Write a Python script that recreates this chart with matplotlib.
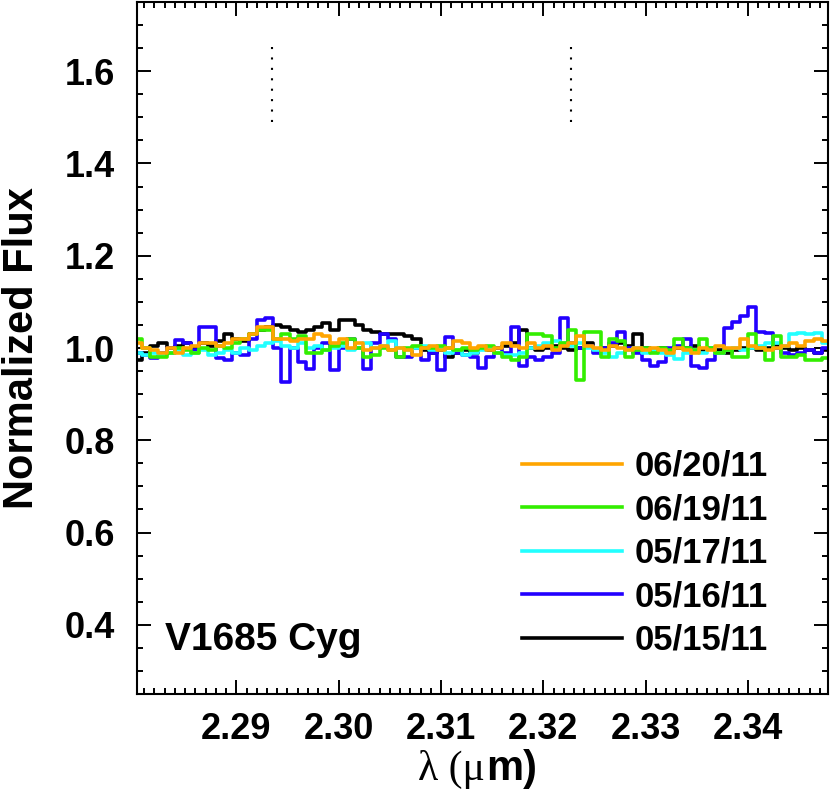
import numpy as np
import matplotlib
matplotlib.use("Agg")
import matplotlib.pyplot as plt
from matplotlib.ticker import MultipleLocator

plt.rcParams['font.family'] = ['Liberation Sans', 'DejaVu Sans']
plt.rcParams['font.weight'] = 'bold'

# wavelength grid (micron) and spectra
wave = 2.2804 + 0.0008 * np.arange(85)

flux_0515 = [0.975, 0.99, 1.005, 1.01, 1.0, 1.005, 1.01, 1.0, 1.01, 1.005,
             1.015, 1.03, 1.02, 1.015, 1.03, 1.04, 1.045, 1.05, 1.045, 1.04,
             1.035, 1.04, 1.045, 1.054, 1.04, 1.06, 1.06, 1.05, 1.04, 1.035,
             1.03, 1.03, 1.03, 1.025, 1.02, 0.995, 0.99, 0.995, 0.98, 0.99,
             0.995, 0.99, 1.0, 0.995, 1.0, 1.005, 1.01, 1.04, 1.0, 0.995,
             1.0, 1.005, 1.0, 0.995, 1.0, 1.01, 0.995, 1.0, 1.005, 1.01,
             1.005, 1.03, 1.0, 0.995, 1.0, 0.995, 1.0, 1.0, 1.005, 0.995,
             1.0, 0.995, 0.99, 0.995, 1.0, 1.0, 0.995, 1.0, 1.005, 1.0,
             0.995, 1.0, 0.995, 0.99, 0.995]

flux_0516 = [0.99, 0.985, 0.978, 0.99, 1.0, 1.017, 1.01, 0.995, 1.045, 1.045,
             0.978, 0.975, 0.99, 0.985, 1.02, 1.06, 1.065, 1.0, 0.926, 1.0,
             0.97, 0.955, 1.0, 1.01, 0.952, 1.0, 1.02, 1.0, 0.955, 1.01,
             1.03, 1.02, 0.98, 0.98, 1.0, 0.975, 0.99, 0.952, 1.024, 0.99,
             0.985, 0.98, 0.957, 0.98, 1.0, 0.99, 1.045, 0.96, 0.98, 0.975,
             0.98, 0.99, 1.065, 1.01, 1.0, 1.005, 0.99, 1.0, 1.01, 1.035,
             1.0, 0.99, 0.975, 0.96, 0.97, 1.0, 1.005, 1.02, 0.96, 0.957,
             0.975, 0.99, 1.043, 1.056, 1.07, 1.089, 1.035, 1.032, 1.0, 0.99,
             0.985, 0.99, 0.995, 0.99, 1.0]

flux_0517 = [0.99, 0.985, 0.99, 0.985, 0.99, 0.995, 0.985, 0.99, 0.995, 0.985,
             0.99, 0.995, 0.99, 1.0, 0.995, 1.005, 1.01, 1.015, 1.005, 1.0,
             1.01, 1.0, 1.005, 0.995, 1.0, 1.005, 0.995, 1.0, 1.01, 1.0,
             1.005, 1.015, 1.0, 0.995, 1.0, 1.005, 0.995, 1.0, 0.99, 0.995,
             0.985, 0.99, 0.995, 1.0, 0.99, 0.985, 0.985, 0.99, 1.0, 1.005,
             1.01, 1.015, 1.01, 1.005, 1.01, 1.0, 0.995, 0.99, 0.98, 0.99,
             0.995, 1.0, 0.99, 0.995, 0.99, 0.985, 0.977, 0.99, 0.995, 0.99,
             1.0, 0.99, 0.995, 1.0, 0.995, 1.0, 1.005, 1.01, 1.01, 1.005,
             1.03, 1.032, 1.03, 1.032, 1.01]

flux_0619 = [1.02, 1.0, 0.98, 0.98, 0.99, 1.0, 0.995, 0.99, 1.0, 0.995,
             1.005, 1.0, 1.01, 1.02, 1.03, 1.04, 1.04, 1.02, 1.03, 1.02,
             1.025, 0.99, 0.99, 0.995, 1.005, 1.01, 1.02, 1.0, 0.98, 0.985,
             1.0, 0.995, 0.98, 1.0, 1.005, 1.0, 1.0, 1.005, 1.0, 0.995,
             1.0, 0.995, 1.0, 1.005, 0.99, 0.98, 0.975, 0.98, 1.03, 1.03,
             1.025, 1.0, 1.01, 1.04, 0.93, 1.035, 1.035, 0.98, 1.02, 1.015,
             0.98, 0.995, 1.0, 0.99, 1.0, 0.995, 1.02, 1.0, 0.995, 1.02,
             1.0, 0.99, 0.995, 0.98, 0.98, 1.03, 1.0, 0.975, 1.025, 0.98,
             0.98, 0.985, 0.975, 0.975, 0.978]

flux_0620 = [1.01, 1.0, 0.995, 0.99, 1.0, 0.99, 1.0, 1.005, 1.01, 1.01,
             1.005, 1.01, 1.02, 1.02, 1.03, 1.045, 1.045, 1.02, 1.02, 1.015,
             1.02, 1.02, 1.03, 1.025, 1.01, 1.02, 1.0, 1.01, 0.995, 1.0,
             1.005, 0.995, 1.0, 0.995, 0.985, 1.0, 1.005, 0.995, 1.0, 1.015,
             1.01, 1.0, 1.005, 0.995, 1.0, 1.01, 1.005, 1.0, 1.01, 1.0,
             1.005, 0.995, 1.005, 1.01, 1.025, 1.005, 1.0, 0.995, 1.005, 1.0,
             0.995, 1.0, 0.995, 1.0, 0.995, 0.99, 1.0, 0.995, 0.99, 1.0,
             0.995, 1.005, 1.0, 1.0, 1.02, 1.005, 1.0, 0.995, 1.0, 1.005,
             1.01, 1.005, 1.015, 1.02, 1.015]

dates = ['05/15/11', '05/16/11', '05/17/11', '06/19/11', '06/20/11']
colors = ['black', '#2200ff', '#22ffff', '#33ee00', '#ffa500']
series = [flux_0515, flux_0516, flux_0517, flux_0619, flux_0620]

# CO bandheads
bandheads = [2.2935, 2.3227]

fig = plt.figure(figsize=(8.3, 8.06), dpi=100)
ax = fig.add_axes([137/830, (806-694)/806, (828-137)/830, (694-2)/806])

lines = []
for flux, c, d in zip(series, colors, dates):
    ln, = ax.plot(wave, flux, drawstyle='steps-mid', color=c, lw=2.6, label=d)
    lines.append(ln)

ax.vlines(bandheads, 1.49, 1.665, colors='black', lw=1.5, linestyles=(0, (1, 4)))

ax.set_xlim(2.2803, 2.3478)
ax.set_ylim(0.25, 1.75)
ax.xaxis.set_minor_locator(MultipleLocator(0.001))
ax.yaxis.set_minor_locator(MultipleLocator(0.05))
ax.set_xticks([2.29, 2.30, 2.31, 2.32, 2.33, 2.34])
ax.set_xticklabels(['2.29', '2.30', '2.31', '2.32', '2.33', '2.34'])
ax.set_yticks([0.4, 0.6, 0.8, 1.0, 1.2, 1.4, 1.6])
ax.set_yticklabels(['0.4', '0.6', '0.8', '1.0', '1.2', '1.4', '1.6'])

ax.tick_params(which='both', direction='in', top=True, right=True, width=1.4)
ax.tick_params(which='major', length=10, labelsize=26)
ax.tick_params(axis='x', which='major', pad=13)
ax.tick_params(axis='y', which='major', pad=16)
ax.tick_params(which='minor', length=4.5)
for s in ax.spines.values():
    s.set_linewidth(1.5)

ax.set_ylabel('Normalized Flux', fontsize=30, fontweight='bold')
ax.yaxis.set_label_coords(-0.137, 0.5)

# x label: greek part in a serif face, "m)" in bold sans, like the original
fig.text(485/830, (806-780)/806, 'λ (μ', fontsize=30, fontweight='normal',
         family='Liberation Serif', ha='right', va='baseline')
fig.text(486/830, (806-780)/806, 'm)', fontsize=30, fontweight='bold',
         ha='left', va='baseline')

ax.text((165-137)/691, (694-650)/692, 'V1685 Cyg', transform=ax.transAxes,
        fontsize=28, fontweight='bold', va='baseline', ha='left')

leg = ax.legend(lines[::-1], dates[::-1], loc='upper left',
                bbox_to_anchor=(522/830, (806-450)/806), bbox_transform=fig.transFigure,
                frameon=False, fontsize=25, borderpad=0, borderaxespad=0,
                handlelength=2.88, handletextpad=0.37, labelspacing=0.3)
for t in leg.get_texts():
    t.set_fontweight('bold')
for h in leg.get_lines():
    h.set_linewidth(2.6)

fig.savefig('out.png', dpi=100)
